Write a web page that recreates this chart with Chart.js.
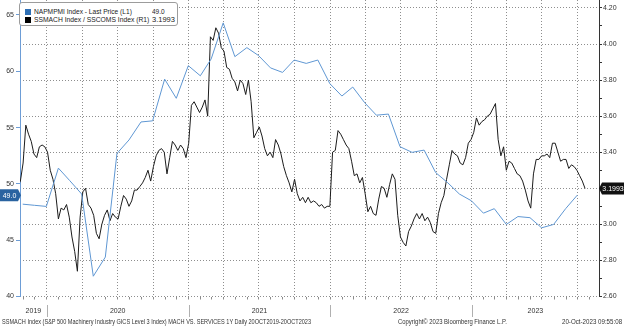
<!DOCTYPE html>
<html>
<head>
<meta charset="utf-8">
<script src="https://cdn.jsdelivr.net/npm/chart.js@4/dist/chart.umd.min.js"></script>
<style>
  html, body { margin: 0; padding: 0; background: #fff; }
  #wrap { position: relative; width: 624px; height: 328px; overflow: hidden; font-family: "Liberation Sans", Arial, sans-serif; }
  #chart { position: absolute; left: 0; top: 0; }
  .txt { position: absolute; white-space: nowrap; line-height: 1; transform-origin: 0 50%; }
  #legend { position: absolute; left: 19px; top: 2px; width: 157px; height: 22px; border: 1px solid #9c9c9c; border-radius: 3px; background: #fff; }
  .sw { position: absolute; width: 6px; height: 6px; }
</style>
</head>
<body>
<div id="wrap">
  <canvas id="chart" width="624" height="328"></canvas>
  <div id="legend"></div>
</div>
<script>
// ISM manufacturing PMI, month-end points from Oct 2019
const pmiStart = [2019, 9];
const pmiVals = [
  48.2, 48.1, 48.0,
  51.4, 50.3, 49.1, 41.8, 43.5, 52.7, 53.9, 55.5, 55.6, 59.3, 57.6, 60.5,
  59.6, 61.1, 64.3, 61.3, 62.1, 61.4, 60.3, 59.9, 61.0, 60.7, 61.0, 58.9,
  57.8, 58.6, 57.2, 56.1, 56.2, 53.3, 52.8, 53.0, 51.0, 50.1, 49.1, 48.5,
  47.4, 47.8, 46.4, 47.1, 47.0, 46.1, 46.4, 47.8, 49.0
];

// SSMACH / SSCOMS ratio, weekly (Fridays) from 18 Oct 2019
const ratioStart = [2019, 9, 18];
const ratioVals = [
  3.21, 3.24, 3.34, 3.55, 3.50, 3.46, 3.39, 3.37, 3.43, 3.44,
  3.43, 3.40, 3.30, 3.25, 3.17, 3.03, 3.09, 3.08, 3.11, 3.04,
  2.93, 2.85, 2.74, 3.04, 3.18, 3.20, 3.11, 3.09, 3.05, 2.95,
  2.92, 3.00, 3.05, 3.08, 3.02, 3.06, 3.04, 3.03, 3.10, 3.16,
  3.14, 3.10, 3.13, 3.19, 3.19, 3.21, 3.23, 3.26, 3.30, 3.24,
  3.32, 3.38, 3.41, 3.42, 3.40, 3.28, 3.37, 3.46, 3.44, 3.41,
  3.44, 3.42, 3.37, 3.45, 3.66, 3.68, 3.65, 3.62, 3.65, 3.69,
  3.60, 4.04, 4.02, 4.09, 4.06, 3.98, 3.96, 3.87, 3.86, 3.81,
  3.79, 3.74, 3.80, 3.78, 3.72, 3.80, 3.68, 3.48, 3.51, 3.54,
  3.49, 3.42, 3.38, 3.40, 3.37, 3.47, 3.44, 3.39, 3.32, 3.27,
  3.23, 3.18, 3.25, 3.17, 3.13, 3.15, 3.12, 3.15, 3.12, 3.13,
  3.12, 3.10, 3.11, 3.09, 3.10, 3.10, 3.40, 3.41, 3.52, 3.50,
  3.47, 3.44, 3.42, 3.35, 3.27, 3.28, 3.23, 3.26, 3.17, 3.07,
  3.10, 3.06, 3.05, 3.14, 3.21, 3.20, 3.15, 3.22, 3.28, 3.25,
  3.05, 2.93, 2.90, 2.88, 2.96, 2.99, 3.03, 3.06, 3.03, 3.06,
  3.02, 3.04, 3.01, 2.96, 2.95, 3.06, 3.12, 3.16, 3.25, 3.33,
  3.41, 3.39, 3.38, 3.34, 3.33, 3.37, 3.45, 3.47, 3.51, 3.59,
  3.55, 3.57, 3.58, 3.60, 3.61, 3.64, 3.67, 3.47, 3.38, 3.43,
  3.30, 3.35, 3.34, 3.31, 3.28, 3.27, 3.24, 3.19, 3.13, 3.09,
  3.28, 3.36, 3.36, 3.38, 3.38, 3.39, 3.37, 3.45, 3.45, 3.40,
  3.35, 3.36, 3.36, 3.31, 3.33, 3.32, 3.30, 3.27, 3.24, 3.1993
];

const leftTicks = [40, 45, 50, 55, 60, 65];
const rightTicks = [2.6, 2.7, 2.8, 2.9, 3.0, 3.1, 3.2, 3.3, 3.4, 3.5, 3.6, 3.7, 3.8, 3.9, 4.0, 4.1, 4.2];
const years = [2019, 2020, 2021, 2022, 2023];

const pmiName = 'NAPMPMI Index - Last Price (L1)';
const ratioName = 'SSMACH Index / SSCOMS Index (R1)';
const footLeft = 'SSMACH Index (S&P 500 Machinery Industry GICS Level 3 Index) MACH VS. SERVICES 1Y  Daily 20OCT2019-20OCT2023';
const footMid = 'Copyright\u00a9 2023 Bloomberg Finance L.P.';
const footRight = '20-Oct-2023 09:55:08';

const BLUE = '#5f97d3';
const TAG_BLUE = '#2a63a0';
const AXIS_BLUE = '#6d9dd6';
const GRID = '#8e8e8e';
const FONT = '"Liberation Sans", Arial, sans-serif';

// x values are days counted from 1 Jan 2020
const DAY0 = Date.UTC(2020, 0, 1);
const dayOf = t => (t - DAY0) / 864e5;
const X_MIN = -69, X_MAX = 1424;

const pmiPoints = pmiVals.map((v, i) => ({
  x: dayOf(Date.UTC(pmiStart[0], pmiStart[1] + i + 1, 0)), y: v
}));
const ratioPoints = ratioVals.map((v, i) => ({
  x: dayOf(Date.UTC(ratioStart[0], ratioStart[1], ratioStart[2] + 7 * i)), y: v
}));

// month starts inside the range, quarter months get a grid line
const monthTicks = [];
for (let k = 0; ; k++) {
  const d = dayOf(Date.UTC(2019, 10 + k, 1));
  if (d > X_MAX) break;
  if (d >= X_MIN) monthTicks.push(d);
}
const isQuarter = d => new Date(DAY0 + d * 864e5).getUTCMonth() % 3 === 0;

const yearStarts = years.map(y => dayOf(Date.UTC(y, 0, 1)));
const yearMids = years.map((y, i) => {
  const a = Math.max(yearStarts[i], X_MIN);
  const b = Math.min(dayOf(Date.UTC(y + 1, 0, 1)), X_MAX);
  return (a + b) / 2;
});

const fixSize = (w, h) => s => {
  if (w != null) s.width = w;
  if (h != null) s.height = h;
  s.paddingTop = s.paddingBottom = s.paddingLeft = s.paddingRight = 0;
};

// year separators under the axis and the last-value tags
const extras = {
  id: 'extras',
  afterDraw(chart) {
    const ctx = chart.ctx;
    const x = chart.scales.x;
    ctx.save();
    ctx.strokeStyle = '#b0b0b0';
    ctx.lineWidth = 1;
    yearStarts.forEach(d => {
      if (d <= X_MIN || d >= X_MAX) return;
      const px = Math.round(x.getPixelForValue(d)) + 0.5;
      ctx.beginPath();
      ctx.moveTo(px, 305);
      ctx.lineTo(px, 317);
      ctx.stroke();
    });

    ctx.font = '7px ' + FONT;
    ctx.textBaseline = 'middle';
    ctx.textAlign = 'center';

    const lastPmi = pmiVals[pmiVals.length - 1];
    const yl = chart.scales.y.getPixelForValue(lastPmi);
    ctx.fillStyle = TAG_BLUE;
    ctx.beginPath();
    ctx.moveTo(0, yl - 6);
    ctx.lineTo(18, yl - 6);
    ctx.lineTo(21, yl);
    ctx.lineTo(18, yl + 6);
    ctx.lineTo(0, yl + 6);
    ctx.closePath();
    ctx.fill();
    ctx.fillStyle = '#fff';
    ctx.fillText(lastPmi.toFixed(1), 9.5, yl + 0.5);

    const lastRatio = ratioVals[ratioVals.length - 1];
    const yr = chart.scales.y1.getPixelForValue(lastRatio);
    ctx.fillStyle = '#111';
    ctx.beginPath();
    ctx.moveTo(624, yr - 6);
    ctx.lineTo(602, yr - 6);
    ctx.lineTo(599, yr);
    ctx.lineTo(602, yr + 6);
    ctx.lineTo(624, yr + 6);
    ctx.closePath();
    ctx.fill();
    ctx.fillStyle = '#fff';
    ctx.fillText(lastRatio.toFixed(4), 613, yr + 0.5);
    ctx.restore();
  }
};

new Chart(document.getElementById('chart'), {
  type: 'line',
  data: {
    datasets: [
      {
        label: pmiName,
        data: pmiPoints,
        yAxisID: 'y',
        borderColor: BLUE,
        borderWidth: 1,
        pointRadius: 0,
        order: 0
      },
      {
        label: ratioName,
        data: ratioPoints,
        yAxisID: 'y1',
        borderColor: '#1c1c1c',
        borderWidth: 1,
        pointRadius: 0,
        order: 1
      }
    ]
  },
  options: {
    responsive: false,
    animation: false,
    events: [],
    layout: { padding: 0 },
    plugins: { legend: { display: false }, tooltip: { enabled: false } },
    elements: { line: { tension: 0 } },
    scales: {
      x: {
        type: 'linear',
        position: 'bottom',
        min: X_MIN,
        max: X_MAX,
        afterBuildTicks: s => { s.ticks = monthTicks.map(v => ({ value: v })); },
        afterFit: fixSize(null, 3),
        ticks: { display: false, autoSkip: false },
        grid: {
          color: c => (c.tick && isQuarter(c.tick.value)) ? GRID : 'rgba(0,0,0,0)',
          tickColor: '#8c8c8c',
          tickLength: 3,
          lineWidth: 1
        },
        border: { display: false, dash: [1, 2] }
      },
      x2: {
        type: 'linear',
        position: 'bottom',
        min: X_MIN,
        max: X_MAX,
        afterBuildTicks: s => { s.ticks = yearMids.map(v => ({ value: v })); },
        afterFit: fixSize(null, 28.5),
        ticks: {
          autoSkip: false,
          maxRotation: 0,
          padding: 7,
          color: '#333',
          font: { family: FONT, size: 7 },
          callback: (v, i) => String(years[i])
        },
        grid: { display: false, drawTicks: false },
        border: { display: false }
      },
      y: {
        type: 'linear',
        position: 'left',
        min: 40,
        max: 66.33,
        afterBuildTicks: s => { s.ticks = leftTicks.map(v => ({ value: v })); },
        afterFit: fixSize(20, null),
        ticks: { color: '#333', padding: 2, font: { family: FONT, size: 7 } },
        grid: { drawOnChartArea: false, color: AXIS_BLUE, tickLength: 4 },
        border: { color: AXIS_BLUE, width: 1 }
      },
      y1: {
        type: 'linear',
        position: 'right',
        min: 2.6,
        max: 4.244,
        afterBuildTicks: s => { s.ticks = rightTicks.map(v => ({ value: v })); },
        afterFit: fixSize(25, null),
        ticks: {
          autoSkip: false,
          color: '#333',
          padding: 1,
          font: { family: FONT, size: 7 },
          callback: v => (Math.round(v * 10) % 2 === 0 ? v.toFixed(2) : '')
        },
        grid: {
          color: c => (c.tick && Math.round(c.tick.value * 10) % 2 === 0) ? GRID : 'rgba(0,0,0,0)',
          tickColor: '#333',
          tickLength: 3
        },
        border: { color: '#333', width: 1, dash: [1, 2] }
      }
    }
  },
  plugins: [extras]
});

// legend box and footer as page text
const wrap = document.getElementById('wrap');
function putText(str, left, midY, width, size, color) {
  const el = document.createElement('div');
  el.className = 'txt';
  el.textContent = str;
  el.style.fontSize = size + 'px';
  el.style.color = color;
  wrap.appendChild(el);
  el.style.left = left + 'px';
  el.style.top = (midY - el.offsetHeight / 2) + 'px';
  if (width) el.style.transform = 'scaleX(' + (width / el.offsetWidth).toFixed(3) + ')';
  return el;
}
function putSwatch(color, left, top) {
  const el = document.createElement('div');
  el.className = 'sw';
  el.style.background = color;
  el.style.left = left + 'px';
  el.style.top = top + 'px';
  wrap.appendChild(el);
}

putSwatch('#2e6fb5', 25, 9);
putSwatch('#000', 25, 17);
putText(pmiName, 33.5, 12, 98, 7.5, '#222');
putText(ratioName, 33.5, 20, 115, 7.5, '#222');
putText(pmiVals[pmiVals.length - 1].toFixed(1), 152, 12, 13, 7.5, '#222');
putText(ratioVals[ratioVals.length - 1].toFixed(4), 152, 20, 23, 7.5, '#222');

putText(footLeft, 2, 321.5, 309, 7, '#333');
putText(footMid, 398, 321.5, 109, 7, '#333');
putText(footRight, 562, 321.5, 60, 7, '#333');
</script>
</body>
</html>
